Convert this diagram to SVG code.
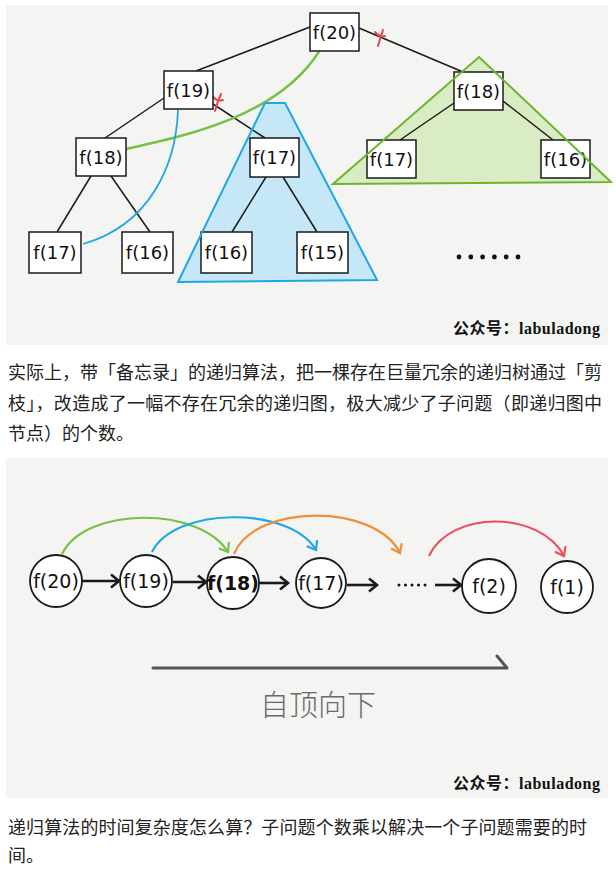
<svg xmlns="http://www.w3.org/2000/svg" width="616" height="871" viewBox="0 0 616 871">
<style>
.panel{fill:#f4f4f2}
.box{fill:#fff;stroke:#1a1a1a;stroke-width:1.5}
.edge{stroke:#1a1a1a;stroke-width:1.5;fill:none}
.lbl{font-family:"DejaVu Sans",sans-serif;font-size:18px;fill:#111;text-anchor:middle;dominant-baseline:central}
.clbl{font-family:"DejaVu Sans",sans-serif;font-size:19px;fill:#111;text-anchor:middle;dominant-baseline:central}
.circ{fill:#fff;stroke:#1a1a1a;stroke-width:1.8}
.arr{stroke:#1a1a1a;stroke-width:2.6;fill:none}
.cur{fill:none;stroke-width:2.2}
.para{font-family:"Noto Sans CJK SC",sans-serif;font-size:18px;fill:#222}
.wm{font-family:"Liberation Serif","Noto Sans CJK SC",serif;font-size:16px;font-weight:bold;fill:#111}
.redx{stroke:#e8474f;stroke-width:2;fill:none;stroke-linecap:round}
</style>
<defs>
<marker id="mk" markerUnits="userSpaceOnUse" markerWidth="20" markerHeight="20" refX="0" refY="0" viewBox="-10 -10 20 20" orient="auto"><path d="M-8,-6.5 L0,0 L-8,6.5" fill="none" stroke="#1a1a1a" stroke-width="2.6" stroke-linejoin="miter"/></marker>
<marker id="mg" markerUnits="userSpaceOnUse" markerWidth="20" markerHeight="20" refX="0" refY="0" viewBox="-10 -10 20 20" orient="auto"><path d="M-8,-6 L0,0 L-8,6" fill="none" stroke="#78c043" stroke-width="2.2"/></marker>
<marker id="mb" markerUnits="userSpaceOnUse" markerWidth="20" markerHeight="20" refX="0" refY="0" viewBox="-10 -10 20 20" orient="auto"><path d="M-8,-6 L0,0 L-8,6" fill="none" stroke="#1ea7e6" stroke-width="2.2"/></marker>
<marker id="mo" markerUnits="userSpaceOnUse" markerWidth="20" markerHeight="20" refX="0" refY="0" viewBox="-10 -10 20 20" orient="auto"><path d="M-8,-6 L0,0 L-8,6" fill="none" stroke="#ef8f3c" stroke-width="2.2"/></marker>
<marker id="mr" markerUnits="userSpaceOnUse" markerWidth="20" markerHeight="20" refX="0" refY="0" viewBox="-10 -10 20 20" orient="auto"><path d="M-8,-6 L0,0 L-8,6" fill="none" stroke="#ea4f5b" stroke-width="2.2"/></marker>
</defs>
<rect width="616" height="871" fill="#fff"/>
<rect class="panel" x="6" y="5" width="602" height="340"/>
<rect class="panel" x="6" y="458" width="602" height="340"/>

<!-- subtrees (fills) -->
<g id="blue-subtree"><polygon points="265,103 285,103 377,280 178,282" fill="#c6e7f8" stroke="none"/></g>
<g id="green-subtree"><polygon points="479,57 611,182 333,184" fill="#d9ecc4" stroke="none"/></g>

<g id="connectors">
<line class="edge" x1="310" y1="27" x2="196" y2="71"/>
<line class="edge" x1="359" y1="28" x2="463" y2="72"/>
<line class="edge" x1="164" y1="98" x2="105" y2="138"/>
<line class="edge" x1="213" y1="104" x2="265" y2="138"/>
<line class="edge" x1="91" y1="176" x2="57" y2="232"/>
<line class="edge" x1="111" y1="176" x2="150" y2="232"/>
<line class="edge" x1="266" y1="177" x2="232" y2="232"/>
<line class="edge" x1="283" y1="177" x2="317" y2="232"/>
<line class="edge" x1="454" y1="103" x2="400" y2="140"/>
<line class="edge" x1="503" y1="101" x2="553" y2="140"/>
<path class="redx" d="M213,97 Q218,102 223,100 M221,94 Q217,103 215,111"/>
<path class="redx" d="M375,32 Q380,38 385,36 M383,30 Q380,39 378,46"/>
<path d="M126,149 C190,135 280,115 320,50" fill="none" stroke="#78c043" stroke-width="2.4"/>
<path d="M178,110 C176,165 150,225 83,244" fill="none" stroke="#1ea7e6" stroke-width="1.8"/>
</g>

<g id="n-f20"><rect class="box" x="310" y="13" width="49" height="38"/><text class="lbl" x="334.5" y="32">f(20)</text></g>
<g id="n-f19"><rect class="box" x="164" y="71" width="49" height="38"/><text class="lbl" x="188.5" y="90">f(19)</text></g>
<g id="n-f18a"><rect class="box" x="76" y="138" width="50" height="38"/><text class="lbl" x="101" y="157">f(18)</text></g>
<g id="n-f17a"><rect class="box" x="250" y="138" width="49" height="39"/><text class="lbl" x="274.5" y="157.5">f(17)</text></g>
<g id="n-f17b"><rect class="box" x="29" y="232" width="52" height="41"/><text class="lbl" x="55" y="252.5">f(17)</text></g>
<g id="n-f16a"><rect class="box" x="122" y="232" width="51" height="41"/><text class="lbl" x="147.5" y="252.5">f(16)</text></g>
<g id="n-f16b"><rect class="box" x="201" y="232" width="51" height="41"/><text class="lbl" x="226.5" y="252.5">f(16)</text></g>
<g id="n-f15"><rect class="box" x="297" y="232" width="51" height="41"/><text class="lbl" x="322.5" y="252.5">f(15)</text></g>
<g id="n-f18b"><rect class="box" x="454" y="72" width="49" height="38"/><text class="lbl" x="478.5" y="91">f(18)</text></g>
<g id="n-f17c"><rect class="box" x="367" y="140" width="49" height="38"/><text class="lbl" x="391.5" y="159">f(17)</text></g>
<g id="n-f16c"><rect class="box" x="541" y="140" width="49" height="38"/><text class="lbl" x="565.5" y="159">f(16)</text></g>

<g id="subtree-outlines">
<polygon points="265,103 285,103 377,280 178,282" fill="none" stroke="#1ea7e6" stroke-width="2"/>
<polygon points="479,57 611,182 333,184" fill="none" stroke="#6cb52e" stroke-width="2"/>
</g>

<g id="dots" fill="#111">
<circle cx="459" cy="257" r="2.4"/><circle cx="470.8" cy="257" r="2.4"/><circle cx="482.6" cy="257" r="2.4"/><circle cx="494.4" cy="257" r="2.4"/><circle cx="506.2" cy="257" r="2.4"/><circle cx="518" cy="257" r="2.4"/>
</g>
<text class="wm" x="453" y="334" textLength="147" lengthAdjust="spacing">公众号：labuladong</text>

<g id="para1" class="para">
<text x="8" y="379" textLength="594" lengthAdjust="spacing">实际上，带「备忘录」的递归算法，把一棵存在巨量冗余的递归树通过「剪</text>
<text x="8" y="410" textLength="594" lengthAdjust="spacing">枝」，改造成了一幅不存在冗余的递归图，极大减少了子问题（即递归图中</text>
<text x="8" y="440">节点）的个数。</text>
</g>

<!-- second panel -->
<g id="connectors2">
<line class="arr" x1="82" y1="581" x2="119" y2="581" marker-end="url(#mk)"/>
<line class="arr" x1="173" y1="582" x2="206" y2="582" marker-end="url(#mk)"/>
<line class="arr" x1="259" y1="583" x2="288" y2="583" marker-end="url(#mk)"/>
<line class="arr" x1="347" y1="585" x2="377" y2="585" marker-end="url(#mk)"/>
<line class="arr" x1="435" y1="585" x2="461" y2="585" marker-end="url(#mk)"/>
<path class="cur" stroke="#78c043" d="M62,554 C85,506 200,506 228,552" marker-end="url(#mg)"/>
<path class="cur" stroke="#1ea7e6" d="M152,552 C175,506 290,506 316,550" marker-end="url(#mb)"/>
<path class="cur" stroke="#ef8f3c" d="M234,554 C255,503 375,503 400,553" marker-end="url(#mo)"/>
<path class="cur" stroke="#ea4f5b" d="M429,556 C450,510 540,510 564,556" marker-end="url(#mr)"/>
</g>
<g id="c-f20"><circle class="circ" cx="56" cy="581" r="26"/><text class="clbl" x="56" y="581">f(20)</text></g>
<g id="c-f19"><circle class="circ" cx="146" cy="581" r="26"/><text class="clbl" x="146" y="581">f(19)</text></g>
<g id="c-f18"><circle class="circ" cx="233" cy="583" r="26" stroke-width="2.2"/><text class="clbl" x="233" y="583" font-weight="bold" font-size="19" font-family="'Liberation Sans',sans-serif">f(18)</text></g>
<g id="c-f17"><circle class="circ" cx="321" cy="583" r="25"/><text class="clbl" x="321" y="583">f(17)</text></g>
<g id="c-dots" fill="#111"><circle cx="399" cy="585" r="1.5"/><circle cx="405.5" cy="585" r="1.5"/><circle cx="412" cy="585" r="1.5"/><circle cx="418.5" cy="585" r="1.5"/><circle cx="425" cy="585" r="1.5"/></g>
<g id="c-f2"><circle class="circ" cx="489" cy="586" r="27"/><text class="clbl" x="489" y="586">f(2)</text></g>
<g id="c-f1"><circle class="circ" cx="567" cy="587" r="26"/><text class="clbl" x="567" y="587">f(1)</text></g>

<g id="topdown">
<path d="M153,668 L507,668 L497,656" fill="none" stroke="#555" stroke-width="3" stroke-linecap="round" stroke-linejoin="round"/>
<text x="318" y="716" text-anchor="middle" font-family="'Noto Sans CJK SC',sans-serif" font-size="29" font-weight="300" fill="#6a6a6a">自顶向下</text>
</g>
<text class="wm" x="453" y="789" textLength="147" lengthAdjust="spacing">公众号：labuladong</text>

<g id="para2" class="para">
<text x="8" y="834" textLength="579" lengthAdjust="spacing">递归算法的时间复杂度怎么算？子问题个数乘以解决一个子问题需要的时</text>
<text x="8" y="862">间。</text>
</g>
</svg>
